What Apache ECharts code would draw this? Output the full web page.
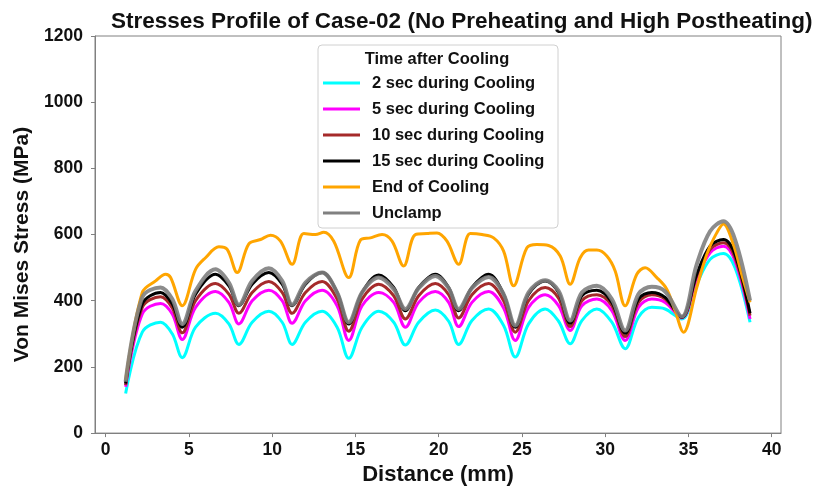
<!DOCTYPE html>
<html>
<head>
<meta charset="utf-8">
<script src="https://cdn.jsdelivr.net/npm/echarts@6/dist/echarts.min.js"></script>
<style>html,body{margin:0;padding:0;background:#fff}#c{width:824px;height:491px}</style>
</head>
<body>
<div id="c"></div>
<script>
const titleText = 'Stresses Profile of Case-02 (No Preheating and High Postheating)';
const xName = 'Distance (mm)';
const yName = 'Von Mises Stress (MPa)';
const legendTitle = 'Time after Cooling';
const seriesNames = ['2 sec during Cooling', '5 sec during Cooling', '10 sec during Cooling', '15 sec during Cooling', 'End of Cooling', 'Unclamp'];
const seriesColors = ['#00FFFF', '#FF00FF', '#A52A2A', '#000000', '#FFA500', '#808080'];

// shared distance grid (mm) for the cooling / unclamp curves
const xCommon = [1.2, 2.2, 3.3, 4.0, 4.6, 5.4, 6.6, 7.4, 8.0, 8.8, 9.8, 10.6, 11.2, 12.0, 13.0, 13.9, 14.6, 15.4, 16.4, 17.3, 18.0, 18.8, 19.8, 20.6, 21.2, 22.0, 23.0, 23.9, 24.6, 25.4, 26.4, 27.2, 27.9, 28.6, 29.5, 30.4, 31.2, 32.0, 32.8, 33.6, 34.6, 35.5, 36.3, 37.1, 37.8, 38.7];

const sec2 = [120, 305, 335, 300, 228, 320, 362, 330, 268, 335, 368, 335, 268, 335, 368, 320, 226, 320, 368, 335, 266, 335, 372, 338, 268, 340, 375, 325, 230, 330, 375, 338, 270, 340, 375, 335, 255, 350, 380, 375, 345, 450, 525, 543, 500, 335];
const sec5 = [140, 360, 392, 360, 283, 380, 428, 395, 330, 400, 432, 400, 332, 400, 432, 385, 280, 385, 425, 395, 320, 395, 428, 395, 322, 395, 428, 378, 280, 380, 418, 385, 310, 385, 405, 370, 280, 380, 405, 395, 348, 465, 545, 565, 520, 345];
const sec10 = [145, 380, 412, 378, 303, 400, 452, 420, 362, 425, 458, 425, 362, 425, 458, 405, 308, 405, 450, 415, 345, 415, 452, 418, 348, 418, 452, 400, 305, 400, 440, 408, 322, 400, 418, 385, 292, 395, 418, 405, 350, 475, 555, 575, 530, 355];
const sec15 = [150, 390, 425, 390, 320, 420, 480, 445, 385, 450, 485, 450, 385, 450, 485, 425, 330, 425, 478, 440, 370, 440, 480, 440, 370, 440, 480, 420, 320, 420, 460, 425, 332, 415, 432, 395, 302, 405, 425, 410, 350, 480, 565, 585, 540, 362];
const unclamp = [155, 410, 440, 405, 330, 430, 495, 455, 388, 460, 498, 460, 388, 455, 485, 425, 335, 425, 470, 435, 375, 438, 475, 438, 375, 438, 472, 420, 325, 425, 462, 430, 340, 425, 445, 405, 310, 420, 442, 428, 352, 510, 610, 640, 585, 400];

// End of Cooling has its own irregular profile
const xEnd = [1.2, 2.2, 3.0, 3.6, 3.9, 4.6, 5.4, 6.0, 6.8, 7.3, 7.9, 8.6, 9.3, 9.9, 10.5, 11.2, 11.9, 12.6, 13.1, 13.7, 14.6, 15.3, 15.9, 16.6, 17.2, 17.9, 18.6, 19.3, 19.9, 20.5, 21.2, 21.9, 22.6, 23.3, 23.9, 24.5, 25.3, 25.9, 26.6, 27.3, 27.9, 28.5, 29.0, 29.5, 30.1, 30.6, 31.2, 31.9, 32.4, 33.1, 33.7, 34.2, 34.7, 35.5, 36.1, 36.7, 37.1, 37.7, 38.2, 38.7];
const endCooling = [160, 425, 460, 480, 470, 385, 495, 530, 563, 555, 485, 572, 585, 598, 580, 510, 603, 600, 607, 580, 470, 583, 590, 600, 580, 505, 600, 603, 605, 580, 510, 603, 600, 590, 550, 445, 560, 570, 567, 535, 450, 530, 553, 553, 535, 490, 385, 480, 500, 470, 435, 370, 305, 440, 540, 605, 632, 570, 480, 395];

const yTicks = [0, 200, 400, 600, 800, 1000, 1200];
const xTicks = [0, 5, 10, 15, 20, 25, 30, 35, 40];

const pair = (xs, ys) => xs.map((x, i) => [x, ys[i]]);
const seriesData = [
  pair(xCommon, sec2), pair(xCommon, sec5), pair(xCommon, sec10),
  pair(xCommon, sec15), pair(xEnd, endCooling), pair(xCommon, unclamp)
];
const widths = [3, 3, 3, 3, 3, 4];

const font = 'Liberation Sans, Arial, sans-serif';
const chart = echarts.init(document.getElementById('c'), null, {renderer: 'canvas'});
chart.setOption({
  animation: false,
  backgroundColor: '#fff',
  title: {
    text: titleText, left: 106, top: 5,
    textStyle: {fontFamily: font, fontWeight: 'bold', fontSize: 22.5, color: '#111'}
  },
  grid: {left: 95, right: 43, top: 36, bottom: 55, show: true, borderColor: '#808080', borderWidth: 1, backgroundColor: 'transparent'},
  xAxis: {
    type: 'value', min: -0.64, max: 40.56, interval: 5,
    name: xName, nameLocation: 'middle', nameGap: 28,
    nameTextStyle: {fontFamily: font, fontWeight: 'bold', fontSize: 22, color: '#111'},
    axisLine: {show: true, onZero: false, lineStyle: {color: '#808080', width: 1}},
    axisTick: {show: true, length: 4, lineStyle: {color: '#808080'}, customValues: xTicks},
    axisLabel: {fontFamily: font, fontWeight: 'bold', fontSize: 17.5, color: '#111', margin: 8, customValues: xTicks, formatter: v => String(v)},
    splitLine: {show: false}
  },
  yAxis: {
    type: 'value', min: 0, max: 1200, interval: 200,
    name: yName, nameLocation: 'middle', nameGap: 58,
    nameTextStyle: {fontFamily: font, fontWeight: 'bold', fontSize: 21, color: '#111', padding: [0, 20, 0, 0]},
    axisLine: {show: true, onZero: false, lineStyle: {color: '#808080', width: 1}},
    axisTick: {show: true, length: 4, lineStyle: {color: '#808080'}},
    axisLabel: {fontFamily: font, fontWeight: 'bold', fontSize: 17.5, color: '#111', margin: 12, formatter: v => String(v)},
    splitLine: {show: false}
  },
  legend: {
    orient: 'vertical', left: 323, top: 74, padding: 0,
    itemWidth: 37, itemHeight: 3, itemGap: 8,
    icon: 'rect',
    textStyle: {fontFamily: font, fontWeight: 'bold', fontSize: 16.5, color: '#111', lineHeight: 18, padding: [0, 0, 0, 7]},
    data: seriesNames.map((n, i) => ({name: n, itemStyle: {color: seriesColors[i]}})),
    z: 20
  },
  graphic: [
    {type: 'rect', z: 10, shape: {x: 318, y: 45, width: 240, height: 183, r: 4}, style: {fill: 'rgba(255,255,255,0.9)', stroke: '#d0d0d0', lineWidth: 1}},
    {type: 'text', z: 21, style: {x: 437, y: 59, text: legendTitle, font: 'bold 16.5px ' + font, fill: '#111', align: 'center', verticalAlign: 'middle'}}
  ],
  series: seriesNames.map((n, i) => ({
    name: n, type: 'line', data: seriesData[i], smooth: 0.35, symbol: 'none',
    lineStyle: {color: seriesColors[i], width: widths[i], opacity: i === 5 ? 0.9 : 1},
    itemStyle: {color: seriesColors[i]},
    z: 2 + i
  }))
});
</script>
</body>
</html>
